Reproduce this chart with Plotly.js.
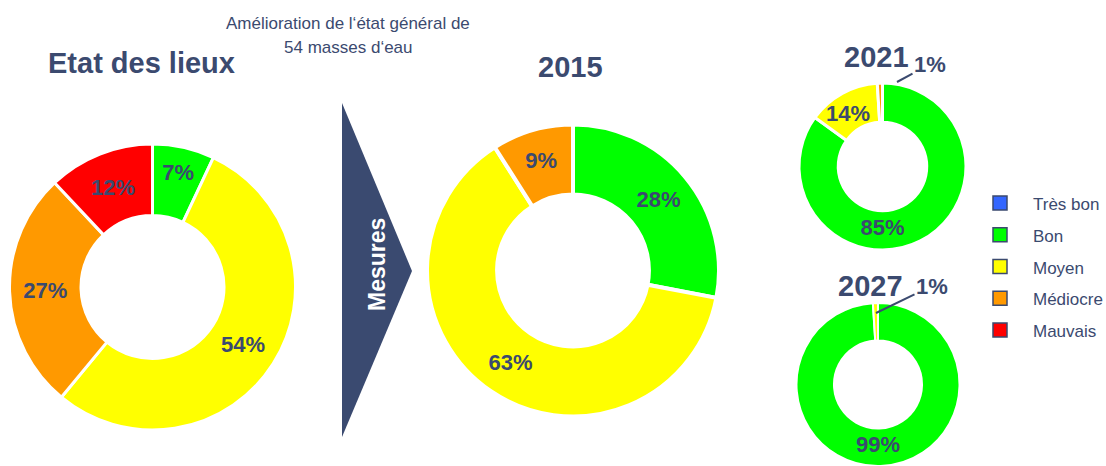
<!DOCTYPE html>
<html><head><meta charset="utf-8">
<script src="https://cdn.plot.ly/plotly-3.0.1.min.js"></script>
<style>html,body{margin:0;padding:0;background:#fff;} #chart{width:1106px;height:466px;}</style>
</head><body><div id="chart"></div>
<script>
// ---- data ----
const categories = ['Très bon', 'Bon', 'Moyen', 'Médiocre', 'Mauvais'];
const categoryColors = ['#3366FF', '#00FF00', '#FFFF00', '#FF9900', '#FF0000'];

const etatLabels = ['Bon', 'Moyen', 'Médiocre', 'Mauvais'];
const etatValues = [7, 54, 27, 12];

const labels2015 = ['Bon', 'Moyen', 'Médiocre'];
const values2015 = [28, 63, 9];

const labels2021 = ['Bon', 'Moyen', 'Médiocre'];
const values2021 = [85, 14, 1];

const labels2027 = ['Bon', 'Moyen'];
const values2027 = [99, 1];

const panelTitles = ['Etat des lieux', '2015', '2021', '2027'];
const subtitleLines = ['Amélioration de l‘état général de', '54 masses d‘eau'];
const arrowLabel = 'Mesures';

// ---- styling / layout helpers ----
const W = 1106, H = 466;
const FONT = 'Liberation Sans, Arial, sans-serif';
const NAVY = '#3b4a6f';
const px = x => x / W;
const py = y => 1 - y / H;
function dom(cx, cy, r) {
  return { x: [px(cx - r), px(cx + r)], y: [Math.max(0, py(cy + r)), Math.min(1, py(cy - r))] };
}
function donut(labels, values, domain, hole, textpos, lw) {
  return {
    type: 'pie', labels: labels, values: values, sort: false, direction: 'clockwise', rotation: 0,
    hole: hole, domain: domain,
    marker: { colors: labels.map(l => categoryColors[categories.indexOf(l)]), line: { color: '#ffffff', width: lw } },
    texttemplate: '%{value}%', textposition: textpos, insidetextorientation: 'horizontal',
    textfont: { family: FONT, size: 22, color: NAVY, weight: 'bold' },
    showlegend: false, hoverinfo: 'label+percent'
  };
}

const data = [
  donut(etatLabels, etatValues, dom(152.5, 287, 143), 0.5, etatValues.map(() => 'inside'), 3),
  donut(labels2015, values2015, dom(573, 270.5, 146), 0.52, values2015.map(() => 'inside'), 4),
  donut(labels2021, values2021, dom(882.5, 166.5, 83.5), 0.53, ['inside', 'none', 'none'], 3),
  donut(labels2027, values2027, dom(878, 385, 82), 0.54, ['inside', 'none'], 2)
];

const annotations = [];
const shapes = [];
const boldFont = { family: FONT, size: 22, color: NAVY, weight: 'bold' };

// titles
const titlePos = [[141, 63], [570.5, 66.5], [876, 57], [870.5, 286]];
panelTitles.forEach((t, i) => {
  annotations.push({ text: t, x: px(titlePos[i][0]), y: py(titlePos[i][1]), xref: 'paper', yref: 'paper',
    xanchor: 'center', yanchor: 'middle', showarrow: false,
    font: { family: FONT, size: 29, color: NAVY, weight: 'bold' } });
});
// subtitle
subtitleLines.forEach((t, i) => {
  annotations.push({ text: t, x: px(348), y: py(23 + i * 25), xref: 'paper', yref: 'paper',
    xanchor: 'center', yanchor: 'middle', showarrow: false,
    font: { family: FONT, size: 17, color: NAVY } });
});
// arrow triangle
shapes.push({ type: 'path', xref: 'paper', yref: 'paper',
  path: `M ${px(342)},${py(103)} L ${px(412)},${py(271)} L ${px(342)},${py(437)} Z`,
  fillcolor: '#3a4a70', line: { width: 0 } });
annotations.push({ text: arrowLabel, x: px(377), y: py(265), xref: 'paper', yref: 'paper',
  xanchor: 'center', yanchor: 'middle', showarrow: false, textangle: -90,
  font: { family: FONT, size: 23, color: '#ffffff', weight: 'bold' } });

// 2021 "Moyen" label kept at full size (too large for the slice)
annotations.push({ text: values2021[1] + '%', x: px(848), y: py(113), xref: 'paper', yref: 'paper',
  xanchor: 'center', yanchor: 'middle', showarrow: false, font: boldFont });

// small-slice labels with leader lines
annotations.push({ text: values2021[2] + '%', x: px(897), y: py(82), xref: 'paper', yref: 'paper',
  ax: 33, ay: -18, showarrow: true, arrowhead: 0, arrowwidth: 2, arrowcolor: NAVY, standoff: 0,
  font: boldFont });
annotations.push({ text: values2027[1] + '%', x: px(876), y: py(313), xref: 'paper', yref: 'paper',
  ax: 56, ay: -27, showarrow: true, arrowhead: 0, arrowwidth: 2, arrowcolor: NAVY, standoff: 0,
  font: boldFont });

// legend
categories.forEach((c, i) => {
  const cy = 203 + i * 31.75;
  shapes.push({ type: 'rect', xref: 'paper', yref: 'paper',
    x0: px(993), x1: px(1007), y0: py(cy + 7), y1: py(cy - 7),
    fillcolor: categoryColors[i], line: { color: NAVY, width: 1.5 } });
  annotations.push({ text: c, x: px(1031), y: py(cy + 1.5), xref: 'paper', yref: 'paper',
    xanchor: 'left', yanchor: 'middle', showarrow: false,
    font: { family: FONT, size: 17, color: NAVY } });
});

const layout = {
  width: W, height: H, margin: { l: 0, r: 0, t: 0, b: 0 },
  paper_bgcolor: '#ffffff', plot_bgcolor: '#ffffff', showlegend: false,
  annotations: annotations, shapes: shapes
};
Plotly.newPlot('chart', data, layout, { displayModeBar: false, staticPlot: true });
</script></body></html>
